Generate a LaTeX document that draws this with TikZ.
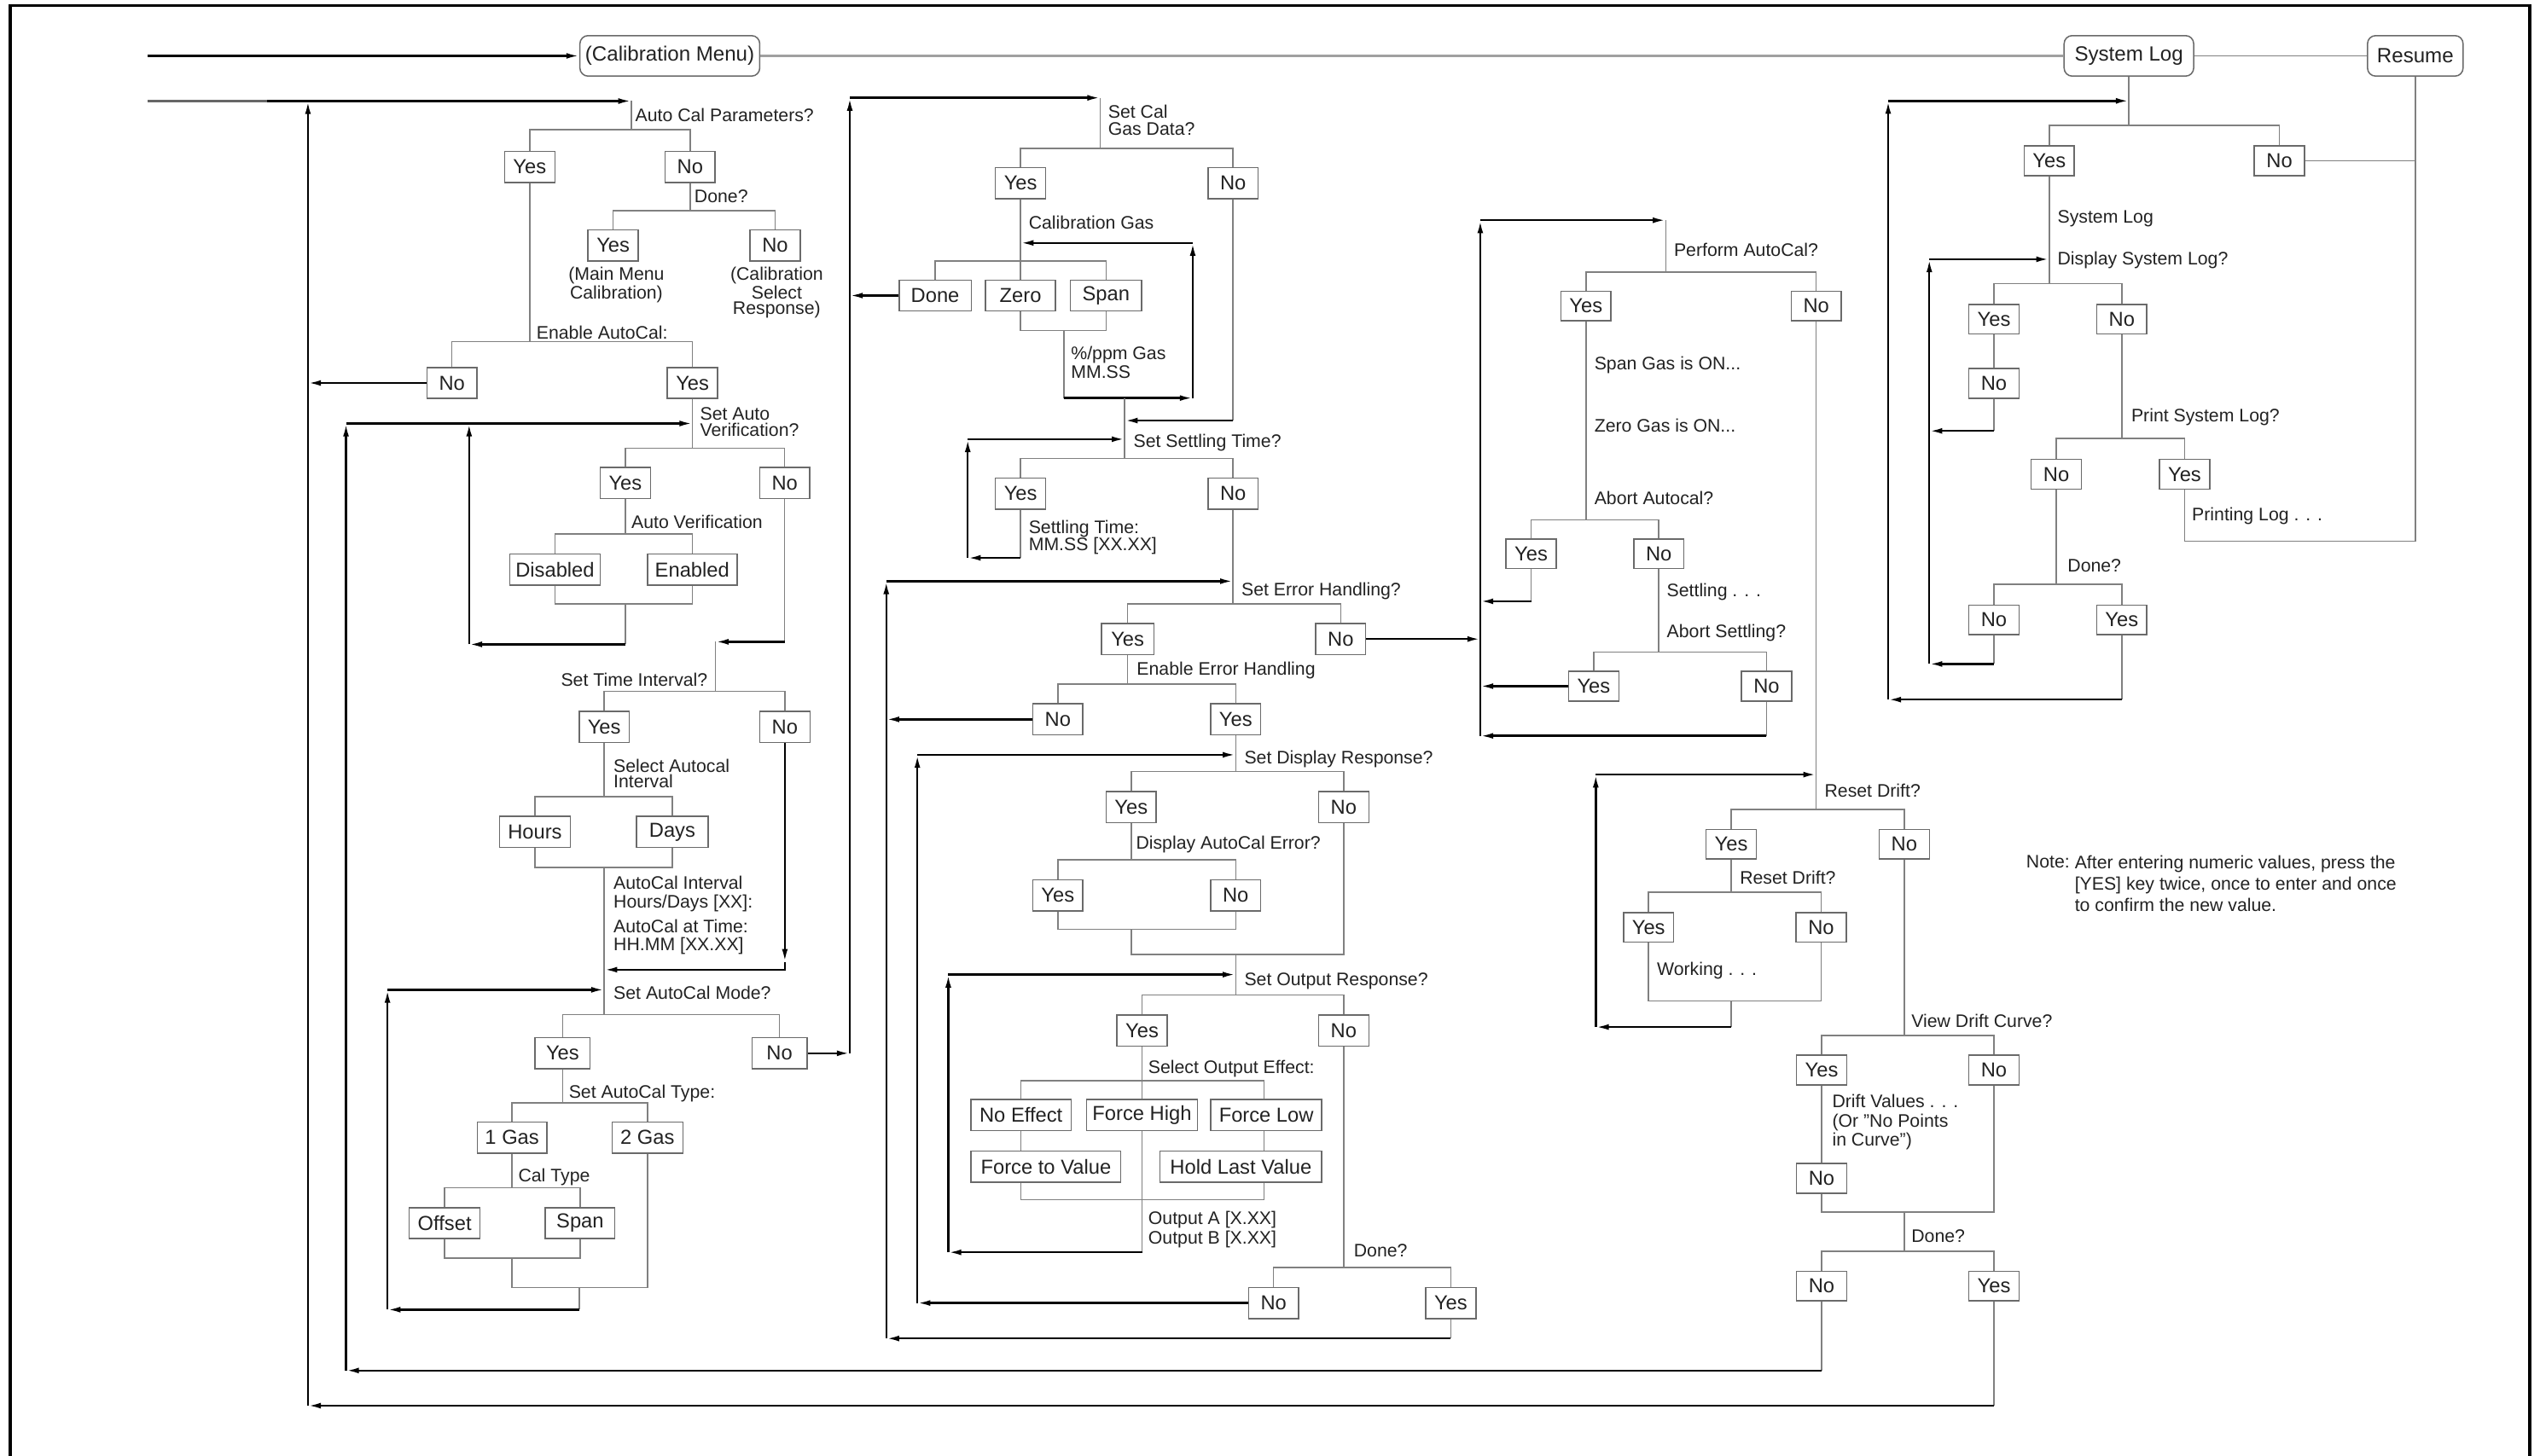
\documentclass[tikz,border=0pt]{standalone}
\usepackage{fontspec}
\setmainfont{Liberation Sans}
\usetikzlibrary{arrows.meta}
\definecolor{txt}{HTML}{222222}
\definecolor{treec}{HTML}{808080}
\definecolor{boxc}{HTML}{6A6A6A}
\definecolor{menuc}{HTML}{A0A0A0}
\newcommand\myboxfont{\fontsize{12.5}{13}\selectfont}
\newcommand\myroundfont{\fontsize{12.7}{13}\selectfont}
\newcommand\mylabelfont{\fontsize{11.2}{10.5}\selectfont}
\newcommand\mynotefont{\fontsize{11.2}{13.2}\selectfont}
\begin{document}
\begin{tikzpicture}[x=1pt,y=-1pt,
  bx/.style={draw=boxc, line width=0.8pt, fill=white, minimum height=19.2pt, minimum width=31pt, inner xsep=3pt, inner ysep=0pt, font=\myboxfont, text=txt},
  bxr/.style={bx, minimum height=18.3pt},
  rbx/.style={bx, rounded corners=5pt, minimum height=25pt, font=\myroundfont},
  lbl/.style={anchor=north west, inner sep=0pt, font=\mylabelfont, align=left, text=txt},
  treeln/.style={draw=treec, line width=0.8pt},
  flowln/.style={draw=black, line width=1.3pt, -{Latex[length=8pt,width=3.6pt]}}]
\useasboundingbox (0,0) rectangle (1568,899);
\draw[line width=1.8pt] (6.3,899) -- (6.3,3.5) -- (1561.7,3.5) -- (1561.7,899);

% ---------- top row ----------
\node[rbx, minimum width=111pt] (calmenu) at (413.5,34.5) {(Calibration Menu)};
\node[rbx, minimum width=80pt] (syslog) at (1314.2,34.5) {System Log};
\node[rbx, minimum width=59pt] (resume) at (1491,34.5) {Resume};
\coordinate (in1) at (91,34.5);
\draw[flowln] (in1) -- (calmenu.west);
\draw[draw=menuc, line width=1.4pt] (calmenu.east) -- (syslog.west);
\draw[treeln] (syslog.east) -- (resume.west);

% ---------- column 1 ----------
\coordinate (in2) at (91,62.4);
\coordinate (in2b) at (165,62.4);
\coordinate (c190t) at (190.1,62.4);
\coordinate (c190b) at (190.1,868);
\coordinate (q1) at (389.7,62.4);
\coordinate (q1b) at (389.7,80);
\draw[draw=black!60, line width=1.1pt] (in2) -- (in2b);
\draw[flowln] (in2b) -- (q1);
\draw[flowln] (c190b) -- (c190t);
\node[lbl] (l1) at (392,67) {Auto Cal Parameters?};
\node[bx] (yes1) at (327,103) {Yes};
\node[bx] (no1) at (426,103) {No};
\draw[treeln] (q1) -- (q1b);
\draw[treeln] (yes1.north) |- (q1b) -| (no1.north);

\node[lbl] (l2) at (428.5,117) {Done?};
\coordinate (q2b) at (426,130);
\node[bx] (yes2) at (378.5,151.5) {Yes};
\node[bx] (no2) at (478.5,151.5) {No};
\draw[treeln] (no1.south) -- (q2b);
\draw[treeln] (yes2.north) |- (q2b) -| (no2.north);
\node[lbl, anchor=north, align=center, font=\fontsize{11.2}{9.8}\selectfont] (l3) at (380.5,164.6) {(Main Menu\\Calibration)};
\node[lbl, anchor=north, align=center, font=\fontsize{11.2}{9.8}\selectfont] (l4) at (479.5,164.6) {(Calibration\\Select\\Response)};

\coordinate (q3b) at (327,211);
\draw[treeln] (yes1.south) -- (q3b);
\node[lbl] (l5) at (331,201) {Enable AutoCal:};
\node[bx] (no3) at (279,236.5) {No};
\node[bx] (yes3) at (427.5,236.5) {Yes};
\draw[treeln] (no3.north) |- (q3b) -| (yes3.north);
\coordinate (c190m) at (190.1,236.5);
\draw[flowln] (no3.west) -- (c190m);

\coordinate (q4) at (427.5,261.5);
\coordinate (q4b) at (427.5,276.7);
\draw[treeln] (yes3.south) -- (q4b);
\node[lbl, font=\fontsize{11.2}{9.8}\selectfont] (l6) at (432,251.4) {Set Auto\\Verification?};
\coordinate (c214t) at (213.6,261.5);
\coordinate (c214b) at (213.6,846.3);
\coordinate (c290t) at (289.6,261.5);
\coordinate (c290b) at (289.6,397.9);
\draw[flowln] (c214b) -- (c214t);
\draw[flowln] (c290b) -- (c290t);
\draw[flowln] (c214t) -- (q4);
\node[bx] (yes4) at (386,298.2) {Yes};
\node[bx] (no4) at (484.4,298.2) {No};
\draw[treeln] (yes4.north) |- (q4b) -| (no4.north);
\node[lbl] (l7) at (389.6,318) {Auto Verification};
\coordinate (q5b) at (386,329.7);
\draw[treeln] (yes4.south) -- (q5b);
\node[bx, minimum width=55.8pt] (dis) at (342.6,351.7) {Disabled};
\node[bx, minimum width=55.3pt] (en) at (427.3,351.7) {Enabled};
\draw[treeln] (dis.north) |- (q5b) -| (en.north);
\coordinate (j5) at (386,373);
\coordinate (j5b) at (386,397.9);
\draw[treeln] (dis.south) |- (j5) -| (en.south);
\draw[treeln] (j5) -- (j5b);
\draw[flowln] (j5b) -- (c290b);

\coordinate (n4a) at (484.4,396.3);
\coordinate (q6) at (441.7,396.3);
\coordinate (q6b) at (441.7,427);
\draw[treeln] (no4.south) -- (n4a);
\draw[flowln] (n4a) -- (q6);
\draw[treeln] (q6) -- (q6b);
\node[lbl, anchor=north east] (l8) at (437,415.4) {Set Time Interval?};
\node[bx] (yes5) at (373,449) {Yes};
\node[bx] (no5) at (484.5,449) {No};
\draw[treeln] (yes5.north) |- (q6b) -| (no5.north);
\node[lbl, font=\fontsize{11.2}{9.8}\selectfont] (l9) at (378.6,468.4) {Select Autocal\\Interval};
\coordinate (q7b) at (373,492);
\draw[treeln] (yes5.south) -- (q7b);
\node[bx, minimum width=43.6pt] (hours) at (330.2,513.7) {Hours};
\node[bx, minimum width=44.3pt] (days) at (415,513.7) {Days};
\draw[treeln] (hours.north) |- (q7b) -| (days.north);
\coordinate (j7) at (373,535.6);
\coordinate (q8) at (373,611.2);
\coordinate (q8b) at (373,626.4);
\draw[treeln] (hours.south) |- (j7) -| (days.south);
\draw[treeln] (j7) -- (q8b);
\node[lbl, font=\fontsize{11.2}{11.6}\selectfont] (l10) at (378.6,541) {AutoCal Interval\\Hours/Days [XX]:};
\node[lbl, font=\fontsize{11.2}{10.8}\selectfont] (l11) at (378.6,567.8) {AutoCal at Time:\\HH.MM [XX.XX]};
\coordinate (n5a) at (484.5,594);
\coordinate (n5b) at (484.5,598.8);
\coordinate (n5c) at (373,598.8);
\draw[flowln] (no5.south) -- (n5a);
\draw[flowln] (n5a) -- (n5b) -- (n5c);

\coordinate (c239t) at (239.2,611.2);
\coordinate (c239b) at (239.2,808.7);
\draw[flowln] (c239b) -- (c239t);
\draw[flowln] (c239t) -- (q8);
\node[lbl] (l12) at (378.6,608.6) {Set AutoCal Mode?};
\node[bx, minimum width=34pt] (yes6) at (347.3,650.4) {Yes};
\node[bx, minimum width=34pt] (no6) at (481.2,650.4) {No};
\draw[treeln] (yes6.north) |- (q8b) -| (no6.north);
\coordinate (c524b) at (524.6,650.4);
\coordinate (c524t) at (524.6,60.4);
\draw[flowln] (no6.east) -- (c524b);
\draw[flowln] (c524b) -- (c524t);

\node[lbl] (l13) at (351,669.7) {Set AutoCal Type:};
\coordinate (q9b) at (347.3,681);
\draw[treeln] (yes6.south) -- (q9b);
\node[bx, minimum width=43pt] (gas1) at (316.1,702.5) {1 Gas};
\node[bx, minimum width=43.7pt] (gas2) at (399.7,702.5) {2 Gas};
\draw[treeln] (gas1.north) |- (q9b) -| (gas2.north);
\node[lbl] (l14) at (319.8,721.6) {Cal Type};
\coordinate (q10b) at (316.1,733.4);
\draw[treeln] (gas1.south) -- (q10b);
\node[bx, minimum width=43.7pt] (offset) at (274.5,755.3) {Offset};
\node[bx, minimum width=43pt] (span1) at (358.1,755.3) {Span};
\draw[treeln] (offset.north) |- (q10b) -| (span1.north);
\coordinate (j10) at (316.1,776.8);
\coordinate (j11) at (357.7,795);
\coordinate (j11b) at (357.7,808.7);
\draw[treeln] (offset.south) |- (j10) -| (span1.south);
\draw[treeln] (j10) |- (j11) -| (gas2.south);
\draw[treeln] (j11) -- (j11b);
\draw[flowln] (j11b) -- (c239b);

% ---------- column 2 ----------
\coordinate (q11) at (679.2,60.4);
\coordinate (q11b) at (679.2,91.7);
\draw[flowln] (c524t) -- (q11);
\draw[treeln] (q11) -- (q11b);
\node[lbl, font=\fontsize{11.2}{10.8}\selectfont] (l15) at (683.9,64.6) {Set Cal\\Gas Data?};
\node[bx] (yes7) at (630,113) {Yes};
\node[bx] (no7) at (761.2,113) {No};
\draw[treeln] (yes7.north) |- (q11b) -| (no7.north);
\node[lbl] (l16) at (634.9,133.3) {Calibration Gas};
\coordinate (q12) at (630,150);
\coordinate (q12b) at (630,161.2);
\draw[treeln] (yes7.south) -- (q12b);
\node[bx, minimum width=44.5pt] (done1) at (577.3,182.5) {Done};
\node[bx, minimum width=43.2pt] (zero) at (630,182.5) {Zero};
\node[bx, minimum width=44pt] (span2) at (682.8,182.5) {Span};
\draw[treeln] (done1.north) |- (q12b) -| (span2.north);
\draw[treeln] (q12b) -- (zero.north);
\coordinate (c524d) at (524.6,182.5);
\draw[flowln] (done1.west) -- (c524d);
\coordinate (j12) at (656.9,204.1);
\coordinate (j12b) at (656.9,245.8);
\draw[treeln] (zero.south) |- (j12) -| (span2.south);
\draw[treeln] (j12) -- (j12b);
\node[lbl, font=\fontsize{11.2}{11.5}\selectfont] (l17) at (661,213.9) {\%/ppm Gas\\MM.SS};
\coordinate (c736b) at (736.3,245.8);
\coordinate (c736t) at (736.3,150);
\draw[flowln] (j12b) -- (c736b);
\draw[flowln] (c736b) -- (c736t);
\draw[flowln] (c736t) -- (q12);

\coordinate (q13a) at (694.3,245.8);
\coordinate (q13) at (694.3,271.2);
\coordinate (q13b) at (694.3,283.2);
\draw[treeln] (q13a) -- (q13b);
\coordinate (n7a) at (761.2,259.7);
\coordinate (n7b) at (694.3,259.7);
\draw[treeln] (no7.south) -- (n7a);
\draw[flowln] (n7a) -- (n7b);
\node[lbl] (l18) at (699.6,268) {Set Settling Time?};
\coordinate (c597t) at (597.4,271.2);
\coordinate (c597b) at (597.4,344.5);
\draw[flowln] (c597b) -- (c597t);
\draw[flowln] (c597t) -- (q13);
\node[bx] (yes8) at (630,304.8) {Yes};
\node[bx] (no8) at (761.2,304.8) {No};
\draw[treeln] (yes8.north) |- (q13b) -| (no8.north);
\node[lbl] (l19) at (634.9,321) {Settling Time:\\MM.SS [XX.XX]};
\coordinate (y8a) at (630,344.5);
\draw[treeln] (yes8.south) -- (y8a);
\draw[flowln] (y8a) -- (c597b);

\coordinate (q14) at (761.2,358.9);
\coordinate (q14b) at (761.2,373);
\draw[treeln] (no8.south) -- (q14b);
\coordinate (c547t) at (547.1,358.9);
\coordinate (c547b) at (547.1,826.5);
\draw[flowln] (c547b) -- (c547t);
\draw[flowln] (c547t) -- (q14);
\node[lbl] (l20) at (766.2,359.8) {Set Error Handling?};
\node[bx, minimum width=32.4pt] (yes9) at (696.1,394.6) {Yes};
\node[bx] (no9) at (827.6,394.6) {No};
\draw[treeln] (yes9.north) |- (q14b) -| (no9.north);
\coordinate (c914e) at (913.8,394.6);
\draw[flowln] (no9.east) -- (c914e);
\node[lbl] (l21) at (701.6,408.7) {Enable Error Handling};
\coordinate (q15b) at (696.1,422.5);
\draw[treeln] (yes9.south) -- (q15b);
\node[bx] (no10) at (653,444.2) {No};
\node[bx] (yes10) at (762.8,444.2) {Yes};
\draw[treeln] (no10.north) |- (q15b) -| (yes10.north);
\coordinate (c547m) at (547.1,444.2);
\draw[flowln] (no10.west) -- (c547m);

\coordinate (q16) at (762.8,466.1);
\coordinate (q16b) at (762.8,476.5);
\draw[treeln] (yes10.south) -- (q16b);
\coordinate (c566t) at (566.3,466.1);
\coordinate (c566b) at (566.3,804.6);
\draw[flowln] (c566b) -- (c566t);
\draw[flowln] (c566t) -- (q16);
\node[lbl] (l22) at (768,463.3) {Set Display Response?};
\node[bx] (yes11) at (698.3,498.5) {Yes};
\node[bx] (no11) at (829.5,498.5) {No};
\draw[treeln] (yes11.north) |- (q16b) -| (no11.north);
\node[lbl] (l23) at (701.1,516) {Display AutoCal Error?};
\coordinate (q17b) at (698.3,531);
\draw[treeln] (yes11.south) -- (q17b);
\node[bx] (yes12) at (653,552.8) {Yes};
\node[bx] (no12) at (762.8,552.8) {No};
\draw[treeln] (yes12.north) |- (q17b) -| (no12.north);
\coordinate (j17) at (698.3,573.9);
\coordinate (j18) at (762.8,589.3);
\draw[treeln] (yes12.south) |- (j17) -| (no12.south);
\draw[treeln] (j17) |- (j18) -| (no11.south);
\coordinate (q18) at (762.8,601.8);
\coordinate (q18b) at (762.8,614.5);
\draw[treeln] (j18) -- (q18b);

\coordinate (c585t) at (585.4,601.8);
\coordinate (c585b) at (585.4,773.3);
\draw[flowln] (c585b) -- (c585t);
\draw[flowln] (c585t) -- (q18);
\node[lbl] (l24) at (768,600.6) {Set Output Response?};
\node[bx] (yes13) at (705,636.4) {Yes};
\node[bx] (no13) at (829.5,636.4) {No};
\draw[treeln] (yes13.north) |- (q18b) -| (no13.north);
\node[lbl] (l25) at (708.7,654.6) {Select Output Effect:};
\node[bx, minimum width=61.7pt] (noeff) at (630.3,688.5) {No Effect};
\node[bx, minimum width=68.4pt] (fhigh) at (705,688.5) {Force High};
\node[bx, minimum width=68.5pt] (flow1) at (781.7,688.5) {Force Low};
\node[bx, minimum width=92.4pt] (ftv) at (645.7,720.3) {Force to Value};
\node[bx, minimum width=99.9pt] (hlv) at (766,720.3) {Hold Last Value};
\coordinate (q19b) at (705,667.4);
\coordinate (b19r) at (780.2,667.4);
\draw[treeln] (yes13.south) -- (q19b) -- (fhigh.north);
\draw[treeln] (noeff.north) |- (q19b) -- (b19r) -- (b19r |- flow1.north);
\draw[treeln] (b19r |- flow1.south) -- (b19r |- hlv.north);
\draw[treeln] (noeff.south) -- (noeff.south |- ftv.north);
\coordinate (j19) at (705,740.7);
\coordinate (j19b) at (705,773.3);
\draw[treeln] (noeff.south |- ftv.south) |- (j19) -- (b19r |- j19) -- (b19r |- hlv.south);
\draw[treeln] (fhigh.south) -- (j19b);
\node[lbl, font=\fontsize{11.2}{12.3}\selectfont] (l26) at (708.7,747.6) {Output A [X.XX]\\Output B [X.XX]};
\draw[flowln] (j19b) -- (c585b);

\coordinate (q20b) at (829.5,782.7);
\draw[treeln] (no13.south) -- (q20b);
\node[lbl] (l27) at (835.6,768.3) {Done?};
\node[bx] (no14) at (786.2,804.6) {No};
\node[bx] (yes14) at (895.6,804.6) {Yes};
\draw[treeln] (no14.north) |- (q20b) -| (yes14.north);
\draw[flowln] (no14.west) -- (c566b);
\coordinate (y14a) at (895.6,826.5);
\draw[treeln] (yes14.south) -- (y14a);
\draw[flowln] (y14a) -- (c547b);

% ---------- column 3 ----------
\coordinate (c914t) at (913.8,136);
\coordinate (c914b) at (913.8,454.4);
\coordinate (q21) at (1028.3,136);
\coordinate (q21b) at (1028.3,168);
\draw[flowln] (c914b) -- (c914t);
\draw[flowln] (c914t) -- (q21);
\draw[treeln] (q21) -- (q21b);
\node[lbl] (l28) at (1033.2,149.7) {Perform AutoCal?};
\node[bxr] (yes15) at (979,189) {Yes};
\node[bxr] (no15) at (1121.2,189) {No};
\draw[treeln] (yes15.north) |- (q21b) -| (no15.north);
\coordinate (q22b) at (979,321);
\draw[treeln] (yes15.south) -- (q22b);
\node[lbl] (l29) at (984.1,219.8) {Span Gas is ON...};
\node[lbl] (l30) at (984.1,258.7) {Zero Gas is ON...};
\node[lbl] (l31) at (984.1,303.2) {Abort Autocal?};
\node[bxr] (yes16) at (945.2,342) {Yes};
\node[bxr] (no16) at (1024,342) {No};
\draw[treeln] (yes16.north) |- (q22b) -| (no16.north);
\coordinate (y16a) at (945.2,371.3);
\coordinate (c914a) at (913.8,371.3);
\draw[treeln] (yes16.south) -- (y16a);
\draw[flowln] (y16a) -- (c914a);
\coordinate (q23b) at (1024,402.6);
\draw[treeln] (no16.south) -- (q23b);
\node[lbl] (l32) at (1028.8,360.3) {Settling . . .};
\node[lbl] (l33) at (1028.8,385.4) {Abort Settling?};
\node[bxr] (yes17) at (983.8,423.7) {Yes};
\node[bxr] (no17) at (1090.5,423.7) {No};
\draw[treeln] (yes17.north) |- (q23b) -| (no17.north);
\coordinate (c914c) at (913.8,423.7);
\draw[flowln] (yes17.west) -- (c914c);
\coordinate (n17a) at (1090.5,454.4);
\draw[treeln] (no17.south) -- (n17a);
\draw[flowln] (n17a) -- (c914b);

\coordinate (q24) at (1121.2,478.3);
\coordinate (q24b) at (1121.2,499.8);
\draw[treeln] (no15.south) -- (q24b);
\coordinate (c985t) at (985.1,478.3);
\coordinate (c985b) at (985.1,634.2);
\draw[flowln] (c985b) -- (c985t);
\draw[flowln] (c985t) -- (q24);
\node[lbl] (l34) at (1126.2,483.7) {Reset Drift?};
\node[bxr] (yes18) at (1068.7,521.3) {Yes};
\node[bxr] (no18) at (1175.5,521.3) {No};
\draw[treeln] (yes18.north) |- (q24b) -| (no18.north);
\node[lbl] (l35) at (1073.9,537.4) {Reset Drift?};
\coordinate (q25b) at (1068.7,550.8);
\draw[treeln] (yes18.south) -- (q25b);
\node[bxr] (yes19) at (1017.7,572.6) {Yes};
\node[bxr] (no19) at (1124.2,572.6) {No};
\draw[treeln] (yes19.north) |- (q25b) -| (no19.north);
\node[lbl] (l36) at (1022.7,593.8) {Working . . .};
\coordinate (j25) at (1068.7,618);
\coordinate (j25b) at (1068.7,634.2);
\draw[treeln] (yes19.south) |- (j25) -| (no19.south);
\draw[treeln] (j25) -- (j25b);
\draw[flowln] (j25b) -- (c985b);

\coordinate (q26b) at (1175.5,639.5);
\draw[treeln] (no18.south) -- (q26b);
\node[lbl] (l37) at (1179.8,626) {View Drift Curve?};
\node[bxr] (yes20) at (1124.5,660.8) {Yes};
\node[bxr] (no20) at (1230.9,660.8) {No};
\draw[treeln] (yes20.north) |- (q26b) -| (no20.north);
\node[lbl, font=\fontsize{11.2}{11.8}\selectfont] (l38) at (1130.9,675.8) {Drift Values . . .\\(Or "No Points\\in Curve")};
\node[bxr] (no21) at (1124.5,727.7) {No};
\draw[treeln] (yes20.south) -- (no21.north);
\coordinate (j26) at (1175.5,748.4);
\coordinate (q27b) at (1175.5,772.6);
\draw[treeln] (no21.south) |- (j26) -| (no20.south);
\draw[treeln] (j26) -- (q27b);
\node[lbl] (l39) at (1179.8,759.1) {Done?};
\node[bxr] (no22) at (1124.5,794.1) {No};
\node[bxr] (yes22) at (1230.9,794.1) {Yes};
\draw[treeln] (no22.north) |- (q27b) -| (yes22.north);
\coordinate (n22a) at (1124.5,846.3);
\coordinate (y22a) at (1230.9,868);
\draw[treeln] (no22.south) -- (n22a);
\draw[treeln] (yes22.south) -- (y22a);
\draw[flowln] (n22a) -- (c214b);
\draw[flowln] (y22a) -- (c190b);

% ---------- column 4 ----------
\coordinate (q28) at (1314.2,62.3);
\coordinate (q28b) at (1314.2,77.4);
\draw[treeln] (syslog.south) -- (q28b);
\coordinate (c1166t) at (1165.6,62.3);
\coordinate (c1166b) at (1165.6,432);
\draw[flowln] (c1166b) -- (c1166t);
\draw[flowln] (c1166t) -- (q28);
\node[bxr] (yes23) at (1265,99.3) {Yes};
\node[bxr] (no23) at (1407.1,99.3) {No};
\draw[treeln] (yes23.north) |- (q28b) -| (no23.north);
\node[lbl] (l40) at (1270,129.5) {System Log};
\node[lbl] (l41) at (1270,155.1) {Display System Log?};
\coordinate (q29) at (1265,160.1);
\coordinate (q29b) at (1265,175.2);
\draw[treeln] (yes23.south) -- (q29b);
\coordinate (c1191t) at (1191,160.1);
\coordinate (c1191b) at (1191,410);
\draw[flowln] (c1191b) -- (c1191t);
\draw[flowln] (c1191t) -- (q29);
\node[bxr] (yes24) at (1230.9,197.1) {Yes};
\node[bxr] (no24) at (1309.8,197.1) {No};
\draw[treeln] (yes24.north) |- (q29b) -| (no24.north);
\node[bxr] (no24b) at (1230.9,236.8) {No};
\draw[treeln] (yes24.south) -- (no24b.north);
\coordinate (n24a) at (1230.9,266.1);
\coordinate (c1191m) at (1191,266.1);
\draw[treeln] (no24b.south) -- (n24a);
\draw[flowln] (n24a) -- (c1191m);
\coordinate (q30b) at (1309.8,270.8);
\draw[treeln] (no24.south) -- (q30b);
\node[lbl] (l42) at (1315.5,252.4) {Print System Log?};
\node[bxr] (no25) at (1269.4,292.9) {No};
\node[bxr] (yes25) at (1348.6,292.9) {Yes};
\draw[treeln] (no25.north) |- (q30b) -| (yes25.north);
\node[lbl] (l43) at (1353,313) {Printing Log . . .};
\coordinate (r1) at (1491,99.3);
\coordinate (r2) at (1491,334.2);
\draw[treeln] (no23.east) -- (r1);
\draw[treeln] (resume.south) -- (r1) -- (r2) -| (yes25.south);
\coordinate (q31b) at (1269.4,360.9);
\draw[treeln] (no25.south) -- (q31b);
\node[lbl] (l44) at (1276.2,345.2) {Done?};
\node[bxr] (no26) at (1230.9,382.8) {No};
\node[bxr] (yes26) at (1309.8,382.8) {Yes};
\draw[treeln] (no26.north) |- (q31b) -| (yes26.north);
\coordinate (n26a) at (1230.9,410);
\coordinate (y26a) at (1309.8,432);
\draw[treeln] (no26.south) -- (n26a);
\draw[treeln] (yes26.south) -- (y26a);
\draw[flowln] (n26a) -- (c1191b);
\draw[flowln] (y26a) -- (c1166b);

% ---------- note ----------
\node[lbl, font=\mynotefont] (note1) at (1250.7,528.2) {Note:};
\node[lbl, font=\mynotefont] (note2) at (1280.6,528.2) {After entering numeric values, press the\\{}[YES] key twice, once to enter and once\\to confirm the new value.};
\end{tikzpicture}
\end{document}
